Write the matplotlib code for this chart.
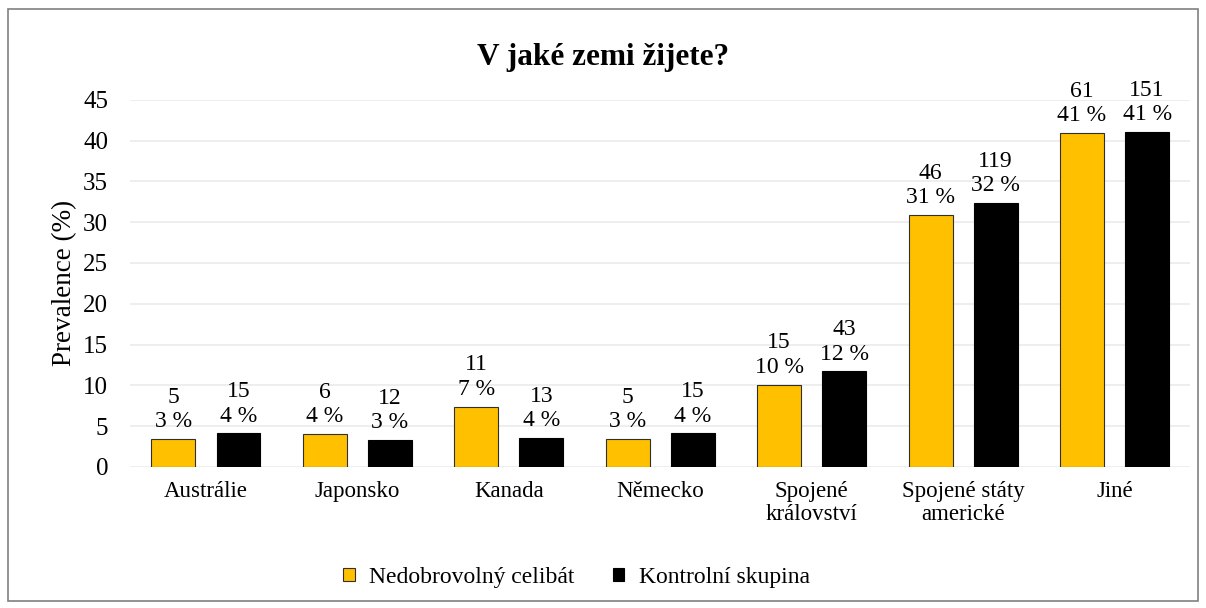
import numpy as np
import matplotlib.pyplot as plt
from matplotlib.patches import Rectangle

plt.rcParams['font.family'] = ['Liberation Serif', 'DejaVu Serif']

kategorie = ['Austrálie', 'Japonsko', 'Kanada', 'Německo', 'Spojené\nkrálovství',
             'Spojené státy\namerické', 'Jiné']
celibat_pct = [3.4, 4.0, 7.4, 3.4, 10.1, 30.9, 40.9]
kontrola_pct = [4.1, 3.3, 3.5, 4.1, 11.7, 32.3, 41.0]
celibat_n = [5, 6, 11, 5, 15, 46, 61]
kontrola_n = [15, 12, 13, 15, 43, 119, 151]
celibat_lab = [3, 4, 7, 3, 10, 31, 41]
kontrola_lab = [4, 3, 4, 4, 12, 32, 41]

fig = plt.figure(figsize=(12.06, 6.08), dpi=100)
ax = fig.add_axes([0.108, 0.232, 0.879, 0.604])

x = np.arange(len(kategorie))
w = 0.29
off = 0.215
b1 = ax.bar(x - off, celibat_pct, w, color='#FFC000', edgecolor='#303030', linewidth=0.8,
            label='Nedobrovolný celibát', zorder=3)
b2 = ax.bar(x + off, kontrola_pct, w, color='black', edgecolor='black', linewidth=0.8,
            label='Kontrolní skupina', zorder=3)

# popisky: počet a procenta nad sloupci
for xi, h, n, p in zip(x - off, celibat_pct, celibat_n, celibat_lab):
    ax.annotate(f'{n}\n{p} %', (xi, h), xytext=(0, 5), textcoords='offset points',
                ha='center', va='bottom', fontsize=17, linespacing=1.2)
for xi, h, n, p in zip(x + off, kontrola_pct, kontrola_n, kontrola_lab):
    ax.annotate(f'{n}\n{p} %', (xi, h), xytext=(0, 5), textcoords='offset points',
                ha='center', va='bottom', fontsize=17, linespacing=1.2)

ax.set_xlim(-0.5, len(kategorie) - 0.5)
ax.set_ylim(0, 45)
ax.set_yticks(range(0, 46, 5))
ax.set_xticks(x)
ax.set_xticklabels(kategorie, fontsize=16.5, linespacing=1.15)
ax.tick_params(axis='y', labelsize=18, length=0, pad=16)
ax.tick_params(axis='x', length=0, pad=10)
ax.grid(axis='y', color='#EBEBEB', linewidth=1.2, zorder=0)
for s in ax.spines.values():
    s.set_visible(False)
ax.set_ylabel('Prevalence (%)', fontsize=19.5, labelpad=4)

fig.text(0.5, 0.905, 'V jaké zemi žijete?', ha='center', va='center',
         fontsize=22.5, fontweight='bold')

fig.legend(handles=[b1, b2], loc='center', bbox_to_anchor=(0.478, 0.05), ncol=2,
           frameon=False, fontsize=17, handlelength=0.5, handleheight=0.5,
           columnspacing=1.6, handletextpad=0.6)

fig.patches.append(Rectangle((0.007, 0.012), 0.986, 0.974, transform=fig.transFigure,
                             fill=False, edgecolor='#808080', linewidth=1.2))

fig.savefig('out.png', dpi=100)
